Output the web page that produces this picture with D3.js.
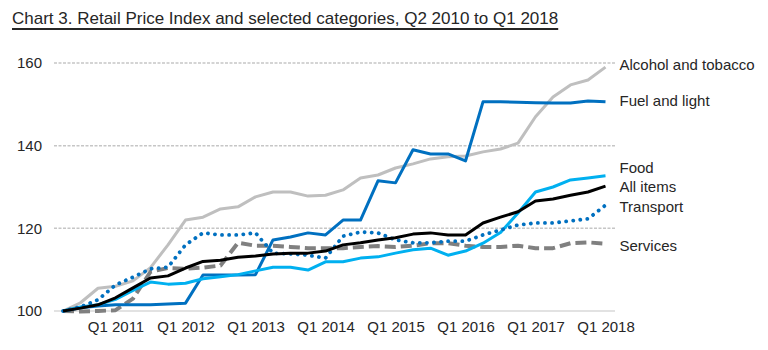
<!DOCTYPE html>
<html>
<head>
<meta charset="utf-8">
<script src="https://cdn.jsdelivr.net/npm/d3@7"></script>
<style>
  body { margin: 0; background: #fff; }
  text { font-family: "Liberation Sans", Arial, sans-serif; fill: #262626; }
</style>
</head>
<body>
<div id="viz"></div>
<script>
const quarters = [
  "Q2 2010", "Q3 2010", "Q4 2010",
  "Q1 2011", "Q2 2011", "Q3 2011", "Q4 2011",
  "Q1 2012", "Q2 2012", "Q3 2012", "Q4 2012",
  "Q1 2013", "Q2 2013", "Q3 2013", "Q4 2013",
  "Q1 2014", "Q2 2014", "Q3 2014", "Q4 2014",
  "Q1 2015", "Q2 2015", "Q3 2015", "Q4 2015",
  "Q1 2016", "Q2 2016", "Q3 2016", "Q4 2016",
  "Q1 2017", "Q2 2017", "Q3 2017", "Q4 2017",
  "Q1 2018"
];

const alcoholTobacco = [100, 102, 105.5, 106, 107.3, 110.5, 116, 122, 122.7, 124.7, 125.2, 127.6,
  128.8, 128.8, 127.8, 128, 129.3, 132.2, 132.9, 134.6, 135.6, 136.8, 137.3, 137.5,
  138.5, 139.2, 140.6, 147, 151.8, 154.7, 155.9, 159];
const fuelLight = [100, 100.8, 101.2, 101.5, 101.5, 101.5, 101.7, 101.9, 108.7, 108.7, 108.7, 108.8,
  117.2, 117.9, 118.9, 118.4, 122, 122, 131.5, 131, 139, 138, 138, 136.3,
  150.6, 150.6, 150.5, 150.4, 150.3, 150.3, 150.8, 150.6];
const food = [100, 101, 101.5, 102.8, 105, 107, 106.5, 106.7, 107.8, 108.3, 108.8, 109.7,
  110.6, 110.6, 109.9, 111.9, 111.9, 112.8, 113.1, 114, 114.8, 115.2, 113.5, 114.5,
  116.4, 119, 123.7, 128.8, 130, 131.7, 132.2, 132.7];
const allItems = [100, 100.7, 101.5, 103.2, 105.6, 108, 108.5, 110.4, 112, 112.3, 113, 113.3,
  113.8, 114, 114, 114.5, 116, 116.5, 117.2, 117.7, 118.6, 118.9, 118.4, 118.4,
  121.3, 122.7, 124, 126.6, 127.1, 128, 128.8, 130.2];
const transport = [100, 101, 102.7, 106.3, 108.2, 110.2, 110.6, 116, 118.9, 118.4, 118.4, 118.9,
  114, 113.8, 113.5, 112.8, 118.1, 119.1, 118.9, 117.2, 116.5, 116.5, 116.9, 116.9,
  118.4, 119.6, 120.8, 121.3, 121.3, 121.8, 122.3, 125.6];
const services = [100, 99.9, 100, 100.2, 103, 109.5, 110.4, 110.2, 110.5, 111, 116.5, 115.8,
  115.8, 115.5, 115.2, 115.2, 115.2, 115.5, 115.7, 115.5, 115.8, 116.4, 116.4, 115.8,
  115.5, 115.5, 115.8, 115.2, 115.2, 116.4, 116.6, 116.3];

const yTicks = [100, 120, 140, 160];
const xTickLabels = quarters.filter(q => q.startsWith("Q1"));

const series = [
  { name: "Alcohol and tobacco", values: alcoholTobacco, color: "#bfbfbf", width: 3, dash: null, nudge: -2 },
  { name: "Services", values: services, color: "#808080", width: 4, dash: "11 5", nudge: 2 },
  { name: "Fuel and light", values: fuelLight, color: "#0070c0", width: 3, dash: null, nudge: -1 },
  { name: "Food", values: food, color: "#00b0f0", width: 3, dash: null, nudge: -8 },
  { name: "Transport", values: transport, color: "#0070c0", width: 3.8, dash: "0.1 7", nudge: 2 },
  { name: "All items", values: allItems, color: "#000000", width: 3, dash: null, nudge: 1 }
];

const svg = d3.select("#viz")
  .append("svg")
    .attr("width", 768)
    .attr("height", 350);

const x = d3.scalePoint()
  .domain(quarters)
  .range([63, 605.5]);

const y = d3.scaleLinear()
  .domain([100, 160])
  .range([311, 63]);

// title
const title = svg.append("text")
  .attr("x", 12)
  .attr("y", 24)
  .style("font-size", "17px")
  .text("Chart 3. Retail Price Index and selected categories, Q2 2010 to Q1 2018");

const tw = title.node().getComputedTextLength();
svg.append("line")
  .attr("x1", 12)
  .attr("x2", 12 + tw)
  .attr("y1", 29)
  .attr("y2", 29)
  .attr("stroke", "#262626")
  .attr("stroke-width", 2);

// gridlines
svg.append("g")
  .selectAll("line")
  .data(yTicks)
  .join("line")
    .attr("x1", 54)
    .attr("x2", 615)
    .attr("y1", d => y(d))
    .attr("y2", d => y(d))
    .attr("stroke", d => d === 100 ? "#d9d9d9" : "#c6c6c6")
    .attr("stroke-width", 1.5)
    .attr("stroke-dasharray", d => d === 100 ? null : "3 1.5");

// y axis labels
const yAxis = svg.append("g")
  .attr("transform", "translate(54,0)")
  .call(d3.axisLeft(y).tickValues(yTicks).tickSize(0).tickPadding(12));
yAxis.select(".domain").remove();
yAxis.selectAll("text")
  .style("font-size", "15px")
  .style("font-family", "Liberation Sans, Arial, sans-serif")
  .attr("fill", "#262626");

// x axis labels
const xAxis = svg.append("g")
  .attr("transform", "translate(0,311)")
  .call(d3.axisBottom(x).tickValues(xTickLabels).tickSize(0).tickPadding(10));
xAxis.select(".domain").remove();
xAxis.selectAll("text")
  .style("font-size", "15px")
  .style("font-family", "Liberation Sans, Arial, sans-serif")
  .attr("fill", "#262626");

const line = d3.line()
  .x((d, i) => x(quarters[i]))
  .y(d => y(d));

svg.append("g")
  .selectAll("path")
  .data(series)
  .join("path")
    .attr("d", d => line(d.values))
    .attr("fill", "none")
    .attr("stroke", d => d.color)
    .attr("stroke-width", d => d.width)
    .attr("stroke-dasharray", d => d.dash)
    .attr("stroke-linecap", d => d.dash && d.dash.startsWith("0.1") ? "round" : "butt")
    .attr("stroke-linejoin", "round");

// series labels
const last = quarters[quarters.length - 1];
svg.append("g")
  .selectAll("text")
  .data(series)
  .join("text")
    .attr("x", x(last) + 14)
    .attr("y", d => y(d.values[d.values.length - 1]) + d.nudge)
    .attr("dy", "0.35em")
    .style("font-size", "15px")
    .text(d => d.name);
</script>
</body>
</html>
